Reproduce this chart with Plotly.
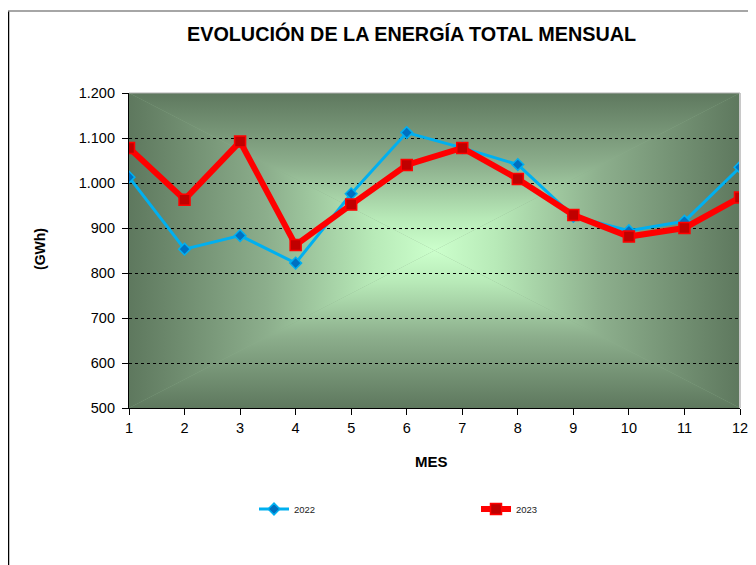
import base64
import plotly.graph_objects as go

# ---- data ----
months = [1, 2, 3, 4, 5, 6, 7, 8, 9, 10, 11, 12]
energy_2022 = [1013, 853, 883, 822, 976, 1112, 1078, 1041, 926, 894, 915, 1035]
energy_2023 = [1078, 963, 1092, 862, 952, 1040, 1078, 1009, 929, 881, 900, 968]
y_ticks = [500, 600, 700, 800, 900, 1000, 1100, 1200]
y_tick_labels = ["500", "600", "700", "800", "900", "1.000", "1.100", "1.200"]

# ---- layout geometry (page pixels; body has an 8px margin) ----
OFF = 8
W, H = 756 - OFF, 565 - OFF
L, T = 129 - OFF, 93 - OFF
R = 756 - 740
B = 565 - 408
PW, PH = W - L - R, H - T - B


def px_x(p):
    return (p - OFF - L) / PW


def px_y(p):
    return (H - B - (p - OFF)) / PH


# ---- rectangular "from center" gradient background as SVG ----
dark, mid, light = "#5e785e", "#8cae8c", "#ccffcc"
cx, cy = PW / 2, PH / 2


def stops():
    return (f'<stop offset="0" stop-color="{dark}"/>'
            f'<stop offset="0.45" stop-color="{mid}"/>'
            f'<stop offset="0.8" stop-color="#b8eab8"/>'
            f'<stop offset="1" stop-color="{light}"/>')


svg = f'''<svg xmlns="http://www.w3.org/2000/svg" width="{PW}" height="{PH}" viewBox="0 0 {PW} {PH}" preserveAspectRatio="none">
<defs>
<linearGradient id="gt" gradientUnits="userSpaceOnUse" x1="0" y1="0" x2="0" y2="{cy}">{stops()}</linearGradient>
<linearGradient id="gb" gradientUnits="userSpaceOnUse" x1="0" y1="{PH}" x2="0" y2="{cy}">{stops()}</linearGradient>
<linearGradient id="gl" gradientUnits="userSpaceOnUse" x1="0" y1="0" x2="{cx}" y2="0">{stops()}</linearGradient>
<linearGradient id="gr" gradientUnits="userSpaceOnUse" x1="{PW}" y1="0" x2="{cx}" y2="0">{stops()}</linearGradient>
</defs>
<rect x="0" y="0" width="{PW}" height="{PH}" fill="{mid}"/>
<polygon points="0,0 {PW},0 {cx},{cy}" fill="url(#gt)"/>
<polygon points="0,{PH} {PW},{PH} {cx},{cy}" fill="url(#gb)"/>
<polygon points="0,0 0,{PH} {cx},{cy}" fill="url(#gl)"/>
<polygon points="{PW},0 {PW},{PH} {cx},{cy}" fill="url(#gr)"/>
</svg>'''
svg_uri = "data:image/svg+xml;base64," + base64.b64encode(svg.encode()).decode()

FONT = "Liberation Sans, Arial, sans-serif"

fig = go.Figure()
fig.add_trace(go.Scatter(
    x=months, y=energy_2022, name="2022", mode="lines+markers",
    line=dict(color="#00b0f0", width=3),
    marker=dict(symbol="diamond", size=9, color="#0070c0",
                line=dict(color="#00b0f0", width=1.5)),
    legend="legend",
))
fig.add_trace(go.Scatter(
    x=months, y=energy_2023, name="2023", mode="lines+markers",
    line=dict(color="#ff0000", width=6),
    marker=dict(symbol="square", size=11, color="#c00000",
                line=dict(color="#ff0000", width=1.5)),
    legend="legend2",
))

leg_common = dict(xanchor="left", yanchor="middle", bgcolor="rgba(0,0,0,0)",
                  font=dict(size=9.5, family=FONT, color="#222"), borderwidth=0)

fig.update_layout(
    width=W, height=H,
    margin=dict(l=L, r=R, t=T, b=B, pad=0, autoexpand=False),
    paper_bgcolor="white",
    plot_bgcolor="rgba(0,0,0,0)",
    font=dict(family=FONT, color="black"),
    separators=",.",
    showlegend=True,
    legend=dict(x=px_x(254), y=px_y(509), **leg_common),
    legend2=dict(x=px_x(476), y=px_y(509), **leg_common),
    images=[dict(source=svg_uri, xref="paper", yref="paper", x=0, y=1,
                 sizex=1, sizey=1, sizing="stretch", layer="below",
                 xanchor="left", yanchor="top")],
)

fig.update_xaxes(
    range=[1, 12], tickmode="array", tickvals=months, automargin=False,
    ticks="outside", ticklen=6, tickcolor="black", tickwidth=1,
    showline=True, linecolor="black", linewidth=1.2,
    showgrid=False, zeroline=False,
    tickfont=dict(size=14.5, family=FONT, color="black"),
)
fig.update_yaxes(
    range=[500, 1200], tickmode="array", tickvals=y_ticks, ticktext=y_tick_labels,
    automargin=False,
    ticks="outside", ticklen=6, tickcolor="black", tickwidth=1,
    showline=True, linecolor="black", linewidth=1.2,
    showgrid=True, gridcolor="black", gridwidth=1, griddash="dot",
    zeroline=False, ticklabelstandoff=4,
    tickfont=dict(size=14.5, family=FONT, color="black"),
)

# plot-area right/top light border
fig.add_shape(type="line", xref="paper", yref="paper", x0=1, x1=1, y0=0, y1=1,
              line=dict(color="#c8c8c8", width=2))
fig.add_shape(type="line", xref="paper", yref="paper", x0=0, x1=1, y0=1, y1=1,
              line=dict(color="#b0b0b0", width=1))

# chart outer border (left dark, top grey)
fig.add_shape(type="line", xref="paper", yref="paper",
              x0=px_x(8.5), x1=px_x(8.5), y0=px_y(570), y1=px_y(11),
              line=dict(color="black", width=1.5))
fig.add_shape(type="line", xref="paper", yref="paper",
              x0=px_x(8), x1=px_x(770), y0=px_y(11), y1=px_y(11),
              line=dict(color="#888888", width=1.5))

fig.add_annotation(text="<b>EVOLUCIÓN DE LA ENERGÍA TOTAL MENSUAL</b>",
                   xref="paper", yref="paper", x=px_x(411), y=px_y(33),
                   xanchor="center", yanchor="middle", showarrow=False,
                   font=dict(size=19.8, family=FONT, color="black"))
fig.add_annotation(text="<b>MES</b>", xref="paper", yref="paper",
                   x=px_x(431), y=px_y(461), xanchor="center", yanchor="middle",
                   showarrow=False, font=dict(size=15, family=FONT, color="black"))
fig.add_annotation(text="<b>(GWh)</b>", xref="paper", yref="paper",
                   x=px_x(40), y=px_y(249), xanchor="center", yanchor="middle",
                   textangle=-90, showarrow=False,
                   font=dict(size=14, family=FONT, color="black"))

fig.write_html("out.html")
